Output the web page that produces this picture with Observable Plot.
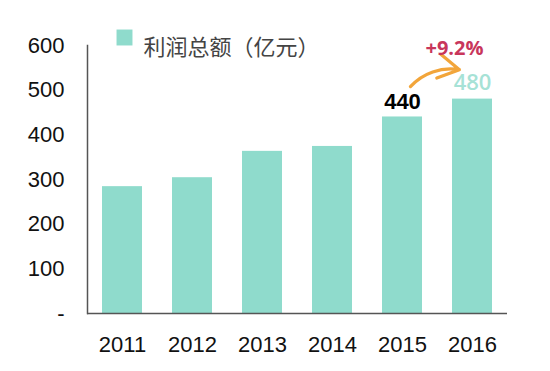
<!DOCTYPE html>
<html>
<head>
<meta charset="utf-8">
<script src="https://cdn.jsdelivr.net/npm/d3@7"></script>
<script src="https://cdn.jsdelivr.net/npm/@observablehq/plot@0.6"></script>
<style>
  html, body { margin: 0; padding: 0; background: #fff; }
  #chart svg { display: block; }
</style>
</head>
<body>
<div id="chart"></div>
<script>
const years = ["2011", "2012", "2013", "2014", "2015", "2016"];
const profits = [284, 304, 363, 374, 440, 480];
const yTicks = [0, 100, 200, 300, 400, 500, 600];
const legendLabel = "利润总额（亿元）";
const growthLabel = "+9.2%";

const data = years.map((year, i) => ({year, value: profits[i]}));
const last = data[data.length - 1];
const prev = data[data.length - 2];

const barColor = "#8fdbcc";
const numFont = "Liberation Sans, Arial, sans-serif";

const chart = Plot.plot({
  width: 550,
  height: 371,
  marginLeft: 87,
  marginRight: 43,
  marginTop: 45,
  marginBottom: 58,
  style: {fontFamily: numFont, background: "#fff"},
  x: {domain: years, paddingInner: 0.43, paddingOuter: 0.215, label: null},
  y: {domain: [0, 600], label: null},
  marks: [
    Plot.barY(data, {x: "year", y: "value", fill: barColor}),
    Plot.frame({anchor: "left", stroke: "#555", strokeWidth: 1.5}),
    Plot.ruleY([0], {stroke: "#555", strokeWidth: 1.5}),
    Plot.axisY({ticks: yTicks, tickSize: 0, tickPadding: 23, fontSize: 22, fill: "#111",
      tickFormat: d => d === 0 ? "-" : String(d)}),
    Plot.axisX({tickSize: 0, tickPadding: 23, fontSize: 22, fill: "#111"}),
    // value labels
    Plot.text([prev], {x: "year", y: "value", text: d => String(d.value), dy: -15,
      fontSize: 22, fontWeight: "bold", fill: "#000"}),
    Plot.text([last], {x: "year", y: "value", text: d => String(d.value), dy: -16,
      fontSize: 22, fontFamily: "Open Sans", fontWeight: 600, fill: "#a6e2d6"}),
    // growth arrow
    Plot.arrow([{x1: prev.year, y1: prev.value, x2: last.year, y2: last.value}], {
      x1: "x1", y1: "y1", x2: "x2", y2: "y2", dx: 3, dy: -24,
      insetStart: 8, insetEnd: 17, bend: 42, stroke: "#f2a53a", strokeWidth: 3.2,
      headLength: 12
    }),
    Plot.text([last], {x: "year", y: "value", text: () => growthLabel, dx: -18, dy: -51,
      fontSize: 20, fontWeight: "bold", fontFamily: "Open Sans", fill: "#c8365b"}),
    // legend
    Plot.dot([0], {frameAnchor: "top-left", dx: 37, dy: -8, symbol: "square", r: 9,
      fill: barColor, stroke: null}),
    Plot.text([legendLabel], {frameAnchor: "top-left", dx: 56, dy: -6, text: d => d,
      textAnchor: "start", fontSize: 22, fontFamily: "Noto Sans CJK SC", fill: "#444"})
  ]
});
document.getElementById("chart").appendChild(chart);
</script>
</body>
</html>
